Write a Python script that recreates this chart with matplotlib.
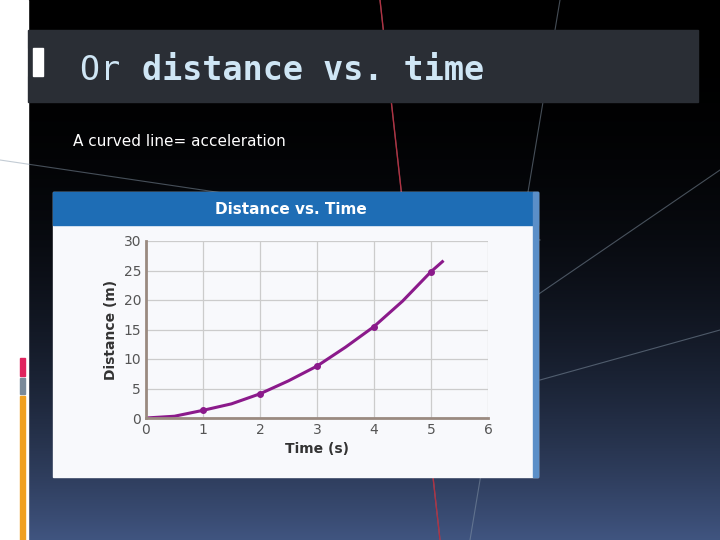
import numpy as np
import matplotlib.pyplot as plt
from matplotlib.patches import Rectangle

# data
time_s = [0, 0.5, 1, 1.5, 2, 2.5, 3, 3.5, 4, 4.5, 5, 5.2]
dist_m = [0, 0.3, 1.3, 2.4, 4.1, 6.3, 8.8, 12.0, 15.5, 19.8, 24.8, 26.5]
mark_t = [1, 2, 3, 4, 5]
mark_d = [1.3, 4.1, 8.8, 15.5, 24.8]

W, H = 720, 540
fig = plt.figure(figsize=(7.2, 5.4), dpi=100)
bg = fig.add_axes([0, 0, 1, 1])
bg.set_xlim(0, W)
bg.set_ylim(H, 0)
bg.axis("off")

# slide background: black with a blue glow at the bottom
grad = np.linspace(0, 1, 200)[:, None] ** 2.5
bg.imshow(np.dstack([0.25 * grad, 0.33 * grad, 0.5 * grad]) * np.ones((1, 2, 1)),
          extent=[28, W, H, 0], aspect="auto", zorder=0)
bg.add_patch(Rectangle((0, 0), 28, H, color="white", zorder=1))
for x0, y0, x1, y1 in [(380, 0, 440, 540), (560, 0, 470, 540), (720, 170, 530, 300),
                       (0, 160, 540, 240), (720, 330, 540, 380)]:
    bg.plot([x0, x1], [y0, y1], color="#8899aa", lw=0.8, alpha=0.5, zorder=1)
bg.plot([380, 440], [0, 540], color="#b03040", lw=1, zorder=1)

# title bar
bg.add_patch(Rectangle((28, 30), 670, 72, color="#2a2e35", zorder=2))
bg.add_patch(Rectangle((18, 48), 8, 28, color="white", zorder=3))
bg.add_patch(Rectangle((33, 48), 10, 28, color="white", zorder=3))
bg.text(80, 70, "Or ", color="#cfe6f5", fontsize=24, family="DejaVu Sans Mono",
        va="center", zorder=3)
bg.text(142, 70, "distance vs. time", color="#cfe6f5", fontsize=24,
        family="DejaVu Sans Mono", weight="bold", va="center", zorder=3)
bg.text(73, 141, "A curved line= acceleration", color="white", fontsize=11,
        va="center", zorder=3)

# left accent bars
bg.add_patch(Rectangle((20, 358), 5, 18, color="#e0245e", zorder=3))
bg.add_patch(Rectangle((20, 378), 5, 16, color="#7a8a9a", zorder=3))
bg.add_patch(Rectangle((20, 396), 5, 144, color="#f0a020", zorder=3))

# chart card
bg.add_patch(Rectangle((53, 192), 485, 285, color="#f8f9fc", zorder=2))
bg.add_patch(Rectangle((53, 192), 485, 33, color="#1e6db5", zorder=3))
bg.add_patch(Rectangle((533, 192), 5, 285, color="#5b8fc8", zorder=3))
bg.text(291, 209, "Distance vs. Time", color="white", fontsize=11,
        weight="bold", ha="center", va="center", zorder=4)

ax = fig.add_axes([146 / W, 1 - 418 / H, 342 / W, 177 / H], zorder=5)
ax.set_facecolor("#f8f9fc")
ax.plot(time_s, dist_m, color="#8b1a8b", lw=2.2)
ax.plot(mark_t, mark_d, "o", color="#8b1a8b", ms=4)
ax.set_xlim(0, 6)
ax.set_ylim(0, 30)
ax.set_xticks(range(0, 7))
ax.set_yticks(range(0, 31, 5))
ax.grid(True, color="#cccccc", lw=0.9)
for s in ["top", "right"]:
    ax.spines[s].set_visible(False)
ax.spines["left"].set_color("#9a8a80")
ax.spines["left"].set_linewidth(2)
ax.spines["bottom"].set_color("#9a8a80")
ax.spines["bottom"].set_linewidth(2)
ax.tick_params(length=0, labelsize=10, colors="#555555")
ax.set_xlabel("Time (s)", fontsize=10, weight="bold", color="#333333")
ax.set_ylabel("Distance (m)", fontsize=10, weight="bold", color="#333333")

fig.savefig("out.png", dpi=100)
